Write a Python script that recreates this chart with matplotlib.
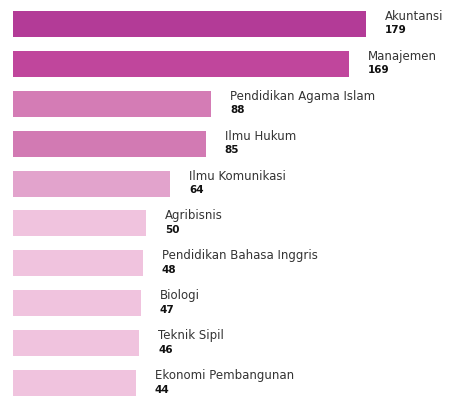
import matplotlib
matplotlib.use("Agg")
import matplotlib.pyplot as plt
from matplotlib.transforms import offset_copy

# ---- data ----
programs = ["Akuntansi", "Manajemen", "Pendidikan Agama Islam", "Ilmu Hukum",
            "Ilmu Komunikasi", "Agribisnis", "Pendidikan Bahasa Inggris",
            "Biologi", "Teknik Sipil", "Ekonomi Pembangunan"]
counts = [179, 169, 88, 85, 64, 50, 48, 47, 46, 44]

# ---- style ----
bar_colors = ["#b33b97", "#c0469c", "#d47cb5", "#d27ab3", "#e2a3cc",
              "#f0c3de", "#f0c3de", "#f0c3de", "#f0c3de", "#f0c3de"]
BASE = 28          # visual stub so short bars keep a minimum length
DPI = 100

fig = plt.figure(figsize=(4.59, 3.97), dpi=DPI)
ax = fig.add_axes([0, 0, 1, 1])
ax.set_axis_off()

pos = list(range(len(programs)))
ax.barh(pos, [c + BASE for c in counts], left=-BASE, height=0.65,
        color=bar_colors, linewidth=0)

ax.set_xlim(-35.6, 233.3)
ax.set_ylim(9.34, -0.59)

name_tr = offset_copy(ax.transData, fig=fig, x=19, y=4, units='dots')
num_tr = offset_copy(ax.transData, fig=fig, x=19, y=-9.5, units='dots')
for p, name, c in zip(pos, programs, counts):
    ax.text(c, p, name, transform=name_tr, ha='left', va='baseline',
            fontsize=8.5, color='#333333', family='DejaVu Sans')
    ax.text(c, p, str(c), transform=num_tr, ha='left', va='baseline',
            fontsize=7.5, fontweight='bold', color='#111111', family='DejaVu Sans')

fig.savefig("out.png", dpi=DPI, facecolor="white")
